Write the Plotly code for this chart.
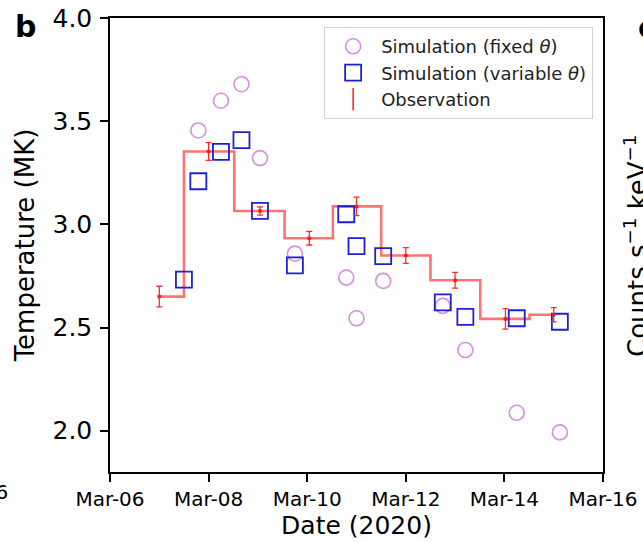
import plotly.graph_objects as go

# ---- data ----
obs_time = ["2020-03-07T00:00", "2020-03-08T00:00", "2020-03-09T01:00", "2020-03-10T01:00",
            "2020-03-11T00:00", "2020-03-12T00:00", "2020-03-13T00:00", "2020-03-14T00:30",
            "2020-03-15T00:00"]
obs_temp = [2.65, 3.353, 3.065, 2.933, 3.087, 2.849, 2.729, 2.542, 2.562]
obs_err = [0.05, 0.043, 0.02, 0.033, 0.045, 0.038, 0.038, 0.05, 0.035]

sim_var_time = ["2020-03-07T12:00", "2020-03-07T19:00", "2020-03-08T06:00", "2020-03-08T16:00",
                "2020-03-09T01:00", "2020-03-09T18:00", "2020-03-10T19:00", "2020-03-11T00:00",
                "2020-03-11T13:00", "2020-03-12T18:00", "2020-03-13T05:00", "2020-03-14T06:00",
                "2020-03-15T03:00"]
sim_var_temp = [2.732, 3.209, 3.351, 3.408, 3.065, 2.801, 3.049, 2.895, 2.846, 2.622, 2.552,
                2.545, 2.528]

sim_fix_time = ["2020-03-07T19:00", "2020-03-08T06:00", "2020-03-08T16:00", "2020-03-09T01:00",
                "2020-03-09T18:00", "2020-03-10T19:00", "2020-03-11T00:00", "2020-03-11T13:00",
                "2020-03-12T18:00", "2020-03-13T05:00", "2020-03-14T06:00", "2020-03-15T03:00"]
sim_fix_temp = [3.455, 3.599, 3.679, 3.321, 2.858, 2.742, 2.545, 2.726, 2.605, 2.391, 2.087,
                1.992]

x_ticks = ["2020-03-06", "2020-03-08", "2020-03-10", "2020-03-12", "2020-03-14", "2020-03-16"]
y_ticks = [2.0, 2.5, 3.0, 3.5, 4.0]

FONT = "DejaVu Sans"
L, R, T, B = 110, 40, 18, 70
W, H = 643, 542
PW, PH = W - L - R, H - T - B


def px_x(px):
    return (px - L) / PW


def px_y(py):
    return (H - B - py) / PH


fig = go.Figure()

# step line through observations
fig.add_trace(go.Scatter(
    x=obs_time, y=obs_temp, mode="lines",
    line=dict(color="rgba(255,40,40,0.65)", width=2.6, shape="hvh"),
    showlegend=False, hoverinfo="skip"))

fig.add_trace(go.Scatter(
    x=sim_fix_time, y=sim_fix_temp, mode="markers", name="Simulation (fixed <i>θ</i>)",
    marker=dict(symbol="circle-open", size=15, color="#d98ee0", line=dict(width=1.6))))

fig.add_trace(go.Scatter(
    x=sim_var_time, y=sim_var_temp, mode="markers", name="Simulation (variable <i>θ</i>)",
    marker=dict(symbol="square-open", size=16, color="#1f1fd6", line=dict(width=1.8))))

fig.add_trace(go.Scatter(
    x=obs_time, y=obs_temp, mode="markers", showlegend=False,
    marker=dict(symbol="circle", size=4, color="#ff1a1a"),
    error_y=dict(type="data", array=obs_err, visible=True, color="#ff2a2a", thickness=1.3,
                 width=3)))

# legend entry for observation (error bar glyph)
fig.add_trace(go.Scatter(
    x=[None], y=[None], mode="markers", name="Observation",
    marker=dict(symbol="line-ns-open", size=16, color="#ff2a2a",
                line=dict(width=1.6, color="#ff2a2a"))))

fig.update_layout(
    template="none",
    width=W, height=H,
    margin=dict(l=L, r=R, t=T, b=B, autoexpand=False),
    paper_bgcolor="white", plot_bgcolor="white",
    font=dict(family=FONT, color="black"),
    showlegend=True,
    legend=dict(x=0.98, y=0.98, xanchor="right", yanchor="top", itemwidth=46,
                bgcolor="rgba(255,255,255,0.85)", bordercolor="#d0d0d0", borderwidth=1,
                font=dict(family=FONT, size=18, color="#222")),
)

fig.update_xaxes(
    range=["2020-03-06", "2020-03-16"], tickvals=x_ticks, tickformat="%b-%d",
    showline=True, linecolor="black", linewidth=1.5, mirror=True, automargin=False,
    ticks="outside", ticklen=8, tickwidth=1.5, tickcolor="black",
    showgrid=False, zeroline=False,
    tickfont=dict(family=FONT, size=20),
    title=dict(text="Date (2020)", font=dict(family=FONT, size=25), standoff=4),
)
fig.update_yaxes(
    range=[1.8, 4.0], tickvals=y_ticks, tickformat=".1f",
    showline=True, linecolor="black", linewidth=1.5, mirror=True, automargin=False,
    ticks="outside", ticklen=8, tickwidth=1.5, tickcolor="black",
    showgrid=False, zeroline=False, ticklabelstandoff=3,
    tickfont=dict(family=FONT, size=25),
    title=dict(text="Temperature (MK)", font=dict(family=FONT, size=26), standoff=10),
)

# panel letters and fragments of neighbouring panels
fig.add_annotation(text="<b>b</b>", xref="paper", yref="paper", x=px_x(25), y=px_y(26),
                   showarrow=False, font=dict(family=FONT, size=30),
                   xanchor="center", yanchor="middle")
fig.add_annotation(text="<b>c</b>", xref="paper", yref="paper", x=px_x(636), y=px_y(27),
                   showarrow=False, font=dict(family=FONT, size=30),
                   xanchor="left", yanchor="middle")
fig.add_annotation(text="Counts s<sup>−1</sup> keV<sup>−1</sup>", xref="paper", yref="paper",
                   x=px_x(636), y=px_y(246), textangle=-90, showarrow=False,
                   font=dict(family=FONT, size=26), xanchor="center", yanchor="middle")
fig.add_annotation(text="Mar-16", xref="paper", yref="paper", x=px_x(10), y=px_y(492),
                   showarrow=False, font=dict(family=FONT, size=20),
                   xanchor="right", yanchor="middle")

fig.write_html("out.html", config={"displayModeBar": False},
               post_script="document.body.style.margin='0';document.body.style.padding='0';")
